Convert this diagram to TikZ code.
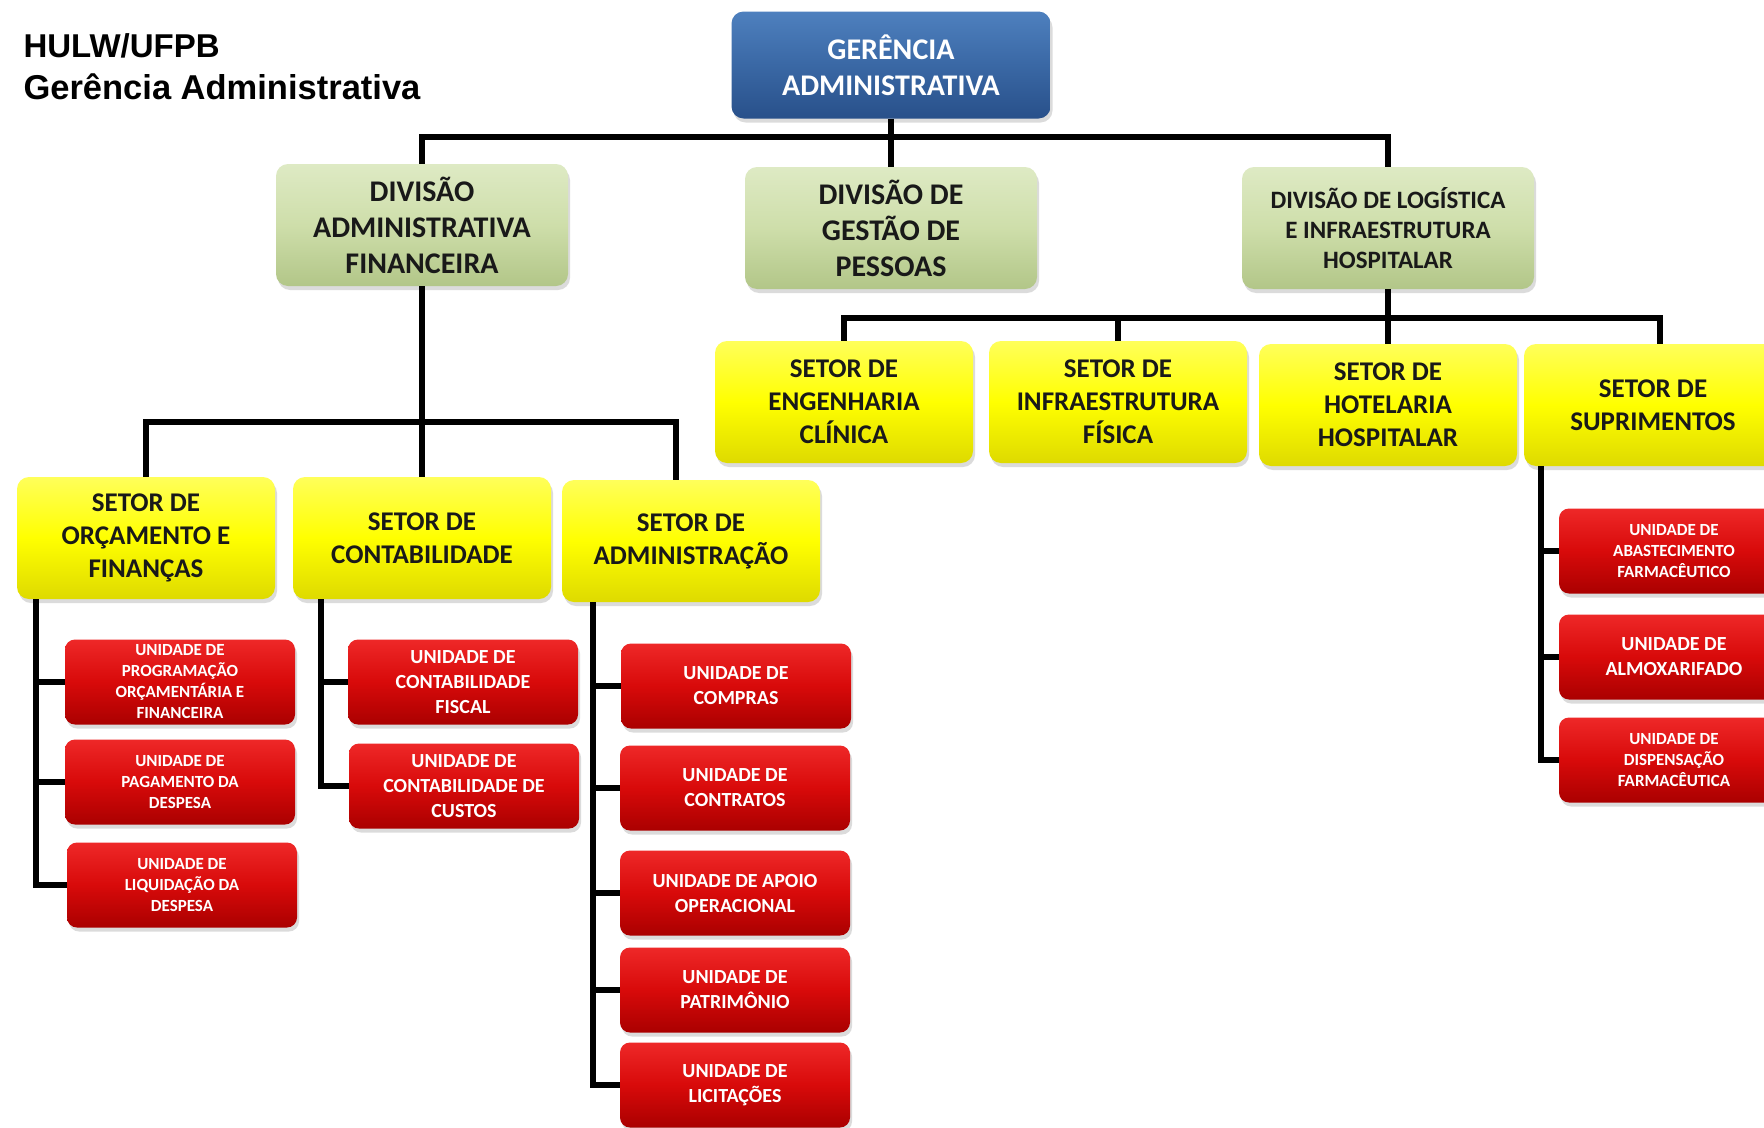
\documentclass[tikz,border=0pt]{standalone}
\usepackage{fontspec}
\setmainfont{Carlito}
\newfontfamily\arialf{Liberation Sans}
\usetikzlibrary{shadows}
\definecolor{gerA}{RGB}{78,128,190}
\definecolor{gerB}{RGB}{58,104,165}
\definecolor{gerC}{RGB}{40,80,138}
\definecolor{divA}{RGB}{222,234,196}
\definecolor{divB}{RGB}{206,222,170}
\definecolor{divC}{RGB}{178,198,136}
\definecolor{setA}{RGB}{255,255,90}
\definecolor{setB}{RGB}{255,255,0}
\definecolor{setC}{RGB}{222,218,0}
\definecolor{uniA}{RGB}{238,40,40}
\definecolor{uniB}{RGB}{216,10,10}
\definecolor{uniC}{RGB}{170,0,0}
\begin{document}
\begin{tikzpicture}[x=1pt,y=-1pt,
  box/.style={rounded corners=12pt, align=center, inner sep=2pt,
    drop shadow={shadow xshift=2pt, shadow yshift=-4pt, opacity=0.28}},
  gerbox/.style={box, top color=gerA, bottom color=gerC, middle color=gerB,
    text=white, font=\bfseries\fontsize{30}{36}\selectfont,
    minimum width=319pt, minimum height=107pt},
  divbox/.style={box, top color=divA, bottom color=divC, middle color=divB,
    text=black!90, font=\bfseries\fontsize{30}{36}\selectfont,
    minimum width=292pt, minimum height=122pt},
  divsmall/.style={divbox, font=\bfseries\fontsize{25}{30}\selectfont},
  setbox/.style={box, top color=setA, bottom color=setC, middle color=setB,
    text=black!90, font=\bfseries\fontsize{27}{33}\selectfont,
    minimum width=258pt, minimum height=122pt},
  unibox/.style={box, rounded corners=10pt, top color=uniA, bottom color=uniC, middle color=uniB,
    text=white, font=\bfseries\fontsize{20}{25}\selectfont,
    minimum width=230pt, minimum height=85pt},
  unismall/.style={unibox, font=\bfseries\fontsize{17}{21}\selectfont},
  titletext/.style={anchor=base west, font=\arialf\bfseries\fontsize{33}{40}\selectfont},
  conn/.style={line width=5.5pt, draw=black}
]
\useasboundingbox (0,0) rectangle (1764,1127);
\fill[white] (0,0) rectangle (1764,1127);

% title
\node[titletext] (t1) at (20,57) {HULW/UFPB};
\node[titletext, font=\arialf\bfseries\fontsize{34.5}{40}\selectfont] (t2) at (20,99) {Gerência Administrativa};

% level 0 and 1
\node[gerbox] (ger) at (891,65) {GERÊNCIA\\ADMINISTRATIVA};
\node[divbox] (daf) at (422,225) {DIVISÃO\\ADMINISTRATIVA\\FINANCEIRA};
\node[divbox] (dgp) at (891,228) {DIVISÃO DE\\GESTÃO DE\\PESSOAS};
\node[divsmall] (dli) at (1388,228) {DIVISÃO DE LOGÍSTICA\\E INFRAESTRUTURA\\HOSPITALAR};

% setores (left)
\node[setbox] (so) at (146,538) {SETOR DE\\ORÇAMENTO E\\FINANÇAS};
\node[setbox] (sc) at (422,538) {SETOR DE\\CONTABILIDADE};
\node[setbox] (sad) at (691,541) {SETOR DE\\ADMINISTRAÇÃO};

% setores (right)
\node[setbox] (se) at (844,402) {SETOR DE\\ENGENHARIA\\CLÍNICA};
\node[setbox] (si) at (1118,402) {SETOR DE\\INFRAESTRUTURA\\FÍSICA};
\node[setbox] (sh) at (1388,405) {SETOR DE\\HOTELARIA\\HOSPITALAR};
\node[setbox] (ss) at (1653,405) {SETOR DE\\SUPRIMENTOS};

% unidades
\node[unismall] (u11) at (180,682) {UNIDADE DE\\PROGRAMAÇÃO\\ORÇAMENTÁRIA E\\FINANCEIRA};
\node[unismall] (u12) at (180,782) {UNIDADE DE\\PAGAMENTO DA\\DESPESA};
\node[unismall] (u13) at (182,885) {UNIDADE DE\\LIQUIDAÇÃO DA\\DESPESA};

\node[unibox] (u21) at (463,682) {UNIDADE DE\\CONTABILIDADE\\FISCAL};
\node[unibox] (u22) at (464,786) {UNIDADE DE\\CONTABILIDADE DE\\CUSTOS};

\node[unibox] (u31) at (736,686) {UNIDADE DE\\COMPRAS};
\node[unibox] (u32) at (735,788) {UNIDADE DE\\CONTRATOS};
\node[unibox] (u33) at (735,893) {UNIDADE DE APOIO\\OPERACIONAL};
\node[unibox] (u34) at (735,990) {UNIDADE DE\\PATRIMÔNIO};
\node[unibox] (u35) at (735,1085) {UNIDADE DE\\LICITAÇÕES};

\node[unismall] (u41) at (1674,551) {UNIDADE DE\\ABASTECIMENTO\\FARMACÊUTICO};
\node[unibox] (u42) at (1674,657) {UNIDADE DE\\ALMOXARIFADO};
\node[unismall] (u43) at (1674,760) {UNIDADE DE\\DISPENSAÇÃO\\FARMACÊUTICA};

% connectors level 0 -> 1
\coordinate (bA) at (0,137);
\draw[conn] (ger.south) -- (ger.south |- bA);
\draw[conn] (daf.north) |- (dli.north |- bA) -- (dli.north);
\draw[conn] (dgp.north) -- (dgp.north |- bA);

% connectors DAF -> setores
\coordinate (bB) at (0,422);
\draw[conn] (daf.south) -- (daf.south |- bB);
\draw[conn] (so.north) |- ([xshift=-15pt]sad.north |- bB) -- ([xshift=-15pt]sad.north);
\draw[conn] (sc.north) -- (sc.north |- bB);

% connectors DLI -> setores
\coordinate (bC) at (0,318);
\draw[conn] (dli.south) -- (dli.south |- bC);
\draw[conn] (se.north) |- ([xshift=7pt]ss.north |- bC) -- ([xshift=7pt]ss.north);
\draw[conn] (si.north) -- (si.north |- bC);
\draw[conn] (sh.north) -- (sh.north |- bC);

% spines
\coordinate (p1) at (36,0);
\coordinate (p2) at (321,0);
\coordinate (p3) at (593,0);
\coordinate (p4) at (1541,0);

\draw[conn] (so.south -| p1) |- (u13.west);
\draw[conn] (p1 |- u11.west) -- (u11.west);
\draw[conn] (p1 |- u12.west) -- (u12.west);

\draw[conn] (sc.south -| p2) |- (u22.west);
\draw[conn] (p2 |- u21.west) -- (u21.west);

\draw[conn] (sad.south -| p3) |- (u35.west);
\draw[conn] (p3 |- u31.west) -- (u31.west);
\draw[conn] (p3 |- u32.west) -- (u32.west);
\draw[conn] (p3 |- u33.west) -- (u33.west);
\draw[conn] (p3 |- u34.west) -- (u34.west);

\draw[conn] (ss.south -| p4) |- (u43.west);
\draw[conn] (p4 |- u41.west) -- (u41.west);
\draw[conn] (p4 |- u42.west) -- (u42.west);
\end{tikzpicture}
\end{document}
